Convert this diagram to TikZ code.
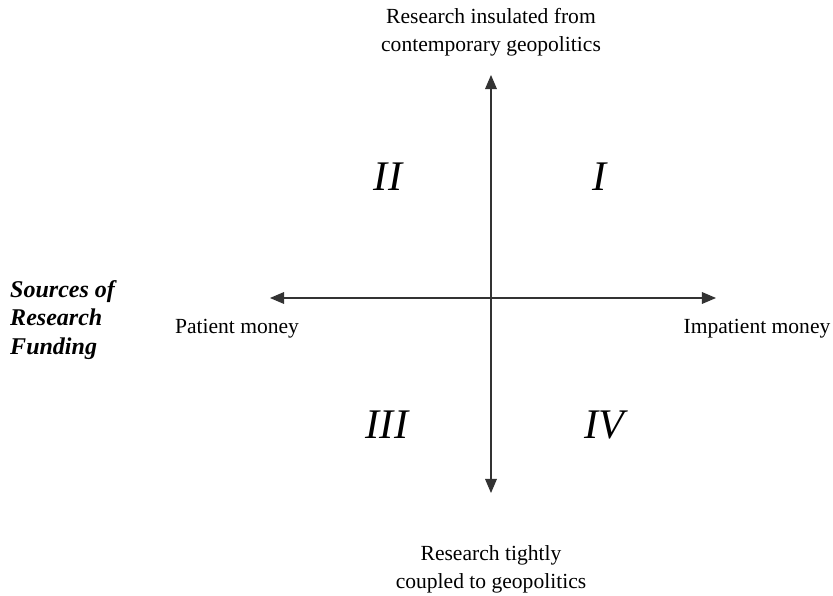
\documentclass[tikz,border=0pt]{standalone}
\usepackage{fontspec}
\setmainfont{Liberation Serif}
\usetikzlibrary{arrows.meta,positioning,calc}

\begin{document}
\begin{tikzpicture}[x=0.03cm,y=-0.03cm,
    axis/.style={line width=0.9pt, draw=black!80, {Triangle[length=12pt,width=10pt]}-{Triangle[length=12pt,width=10pt]}},
    axislabel/.style={align=center, font=\fontsize{18.4}{24}\selectfont, inner sep=0pt},
    quadrant/.style={font=\fontsize{36}{40}\selectfont\itshape, inner sep=0pt}]
    \useasboundingbox (0,0) rectangle (833,596);

    % Axes
    \coordinate (origin) at (491,298);
    \coordinate (north) at (491,75);
    \coordinate (south) at (491,493);
    \coordinate (west) at (270,298);
    \coordinate (east) at (716,298);
    \draw[axis] (north) -- (south);
    \draw[axis] (west) -- (east);

    % Axis ends
    \node[axislabel] (insulated) at (491,32) {Research insulated from\\contemporary geopolitics};
    \node[axislabel] (coupled) at (491,569) {Research tightly\\coupled to geopolitics};
    \node[axislabel] (patient) at (237,329) {Patient money};
    \node[axislabel] (impatient) at (757,329) {Impatient money};

    % Quadrants
    \node[quadrant] (q1) at (600,177) {I};
    \node[quadrant] (q2) at (388,177) {II};
    \node[quadrant] (q3) at (387,425) {III};
    \node[quadrant] (q4) at (604,425) {IV};

    % Side title
    \node[axislabel, align=left, anchor=west, font=\fontsize{20.5}{24.5}\selectfont\bfseries\itshape] (sources) at (10,320) {Sources of\\Research\\Funding};
\end{tikzpicture}
\end{document}
